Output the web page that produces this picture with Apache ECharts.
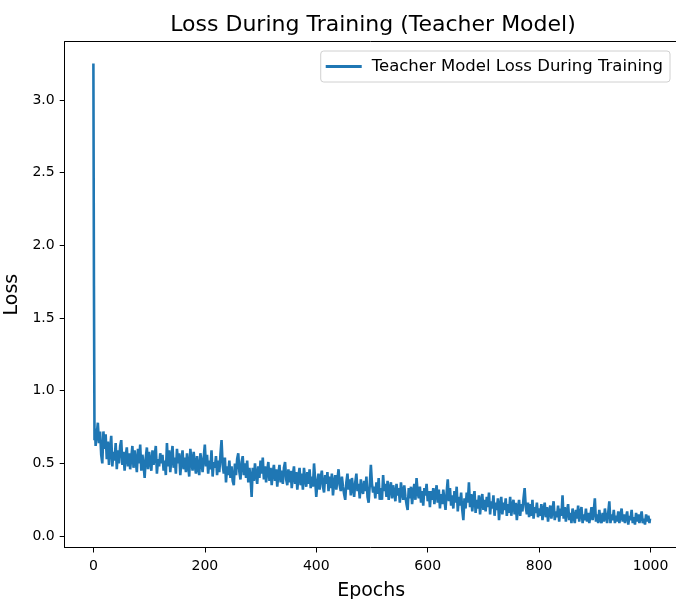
<!DOCTYPE html>
<html lang="en">
<head>
  <meta charset="UTF-8">
  <title>Loss During Training (Teacher Model)</title>
  <script src="https://cdn.jsdelivr.net/npm/echarts@6.0.0/dist/echarts.min.js"></script>
</head>
<body style="margin:0;background:#fff">
  <div id="main" style="width:676px;height:599px;"></div>
  <script>
    // loss: first epochs one by one, then every 2 epochs (4..998), then the last one
    const startEpochs = [0, 1, 2, 3];
    const startLoss = [3.25, 1.72, 0.66, 0.74];
    const lossEvery2 = [
      0.62, 0.70, 0.78, 0.64, 0.72, 0.56, 0.50, 0.72, 0.60, 0.70, // 4-22
      0.53, 0.65, 0.49, 0.60, 0.69, 0.48, 0.58, 0.52, 0.64, 0.46, // 24-42
      0.59, 0.50, 0.62, 0.66, 0.49, 0.58, 0.45, 0.55, 0.61, 0.48, // 44-62
      0.57, 0.46, 0.54, 0.62, 0.47, 0.59, 0.52, 0.44, 0.60, 0.50, // 64-82
      0.63, 0.45, 0.56, 0.49, 0.40, 0.54, 0.61, 0.46, 0.58, 0.51, // 84-102
      0.45, 0.59, 0.49, 0.55, 0.62, 0.43, 0.53, 0.48, 0.57, 0.50, // 104-122
      0.56, 0.45, 0.52, 0.42, 0.64, 0.48, 0.59, 0.44, 0.54, 0.62, // 124-142
      0.47, 0.54, 0.43, 0.60, 0.50, 0.57, 0.42, 0.52, 0.59, 0.46, // 144-162
      0.54, 0.44, 0.57, 0.49, 0.41, 0.60, 0.52, 0.45, 0.58, 0.49, // 164-182
      0.43, 0.55, 0.47, 0.42, 0.57, 0.51, 0.44, 0.54, 0.63, 0.48, // 184-202
      0.56, 0.43, 0.52, 0.46, 0.59, 0.41, 0.51, 0.47, 0.55, 0.42, // 204-222
      0.52, 0.44, 0.56, 0.66, 0.49, 0.43, 0.54, 0.37, 0.48, 0.42, // 224-242
      0.52, 0.40, 0.48, 0.38, 0.35, 0.50, 0.42, 0.53, 0.57, 0.44, // 244-262
      0.39, 0.51, 0.55, 0.42, 0.50, 0.40, 0.52, 0.37, 0.47, 0.41, // 264-282
      0.27, 0.47, 0.38, 0.50, 0.42, 0.36, 0.48, 0.40, 0.52, 0.43, // 284-302
      0.54, 0.39, 0.48, 0.37, 0.45, 0.51, 0.38, 0.47, 0.35, 0.44, // 304-322
      0.49, 0.38, 0.46, 0.34, 0.43, 0.49, 0.37, 0.45, 0.36, 0.47, // 324-342
      0.51, 0.39, 0.35, 0.46, 0.37, 0.45, 0.33, 0.42, 0.48, 0.36, // 344-362
      0.44, 0.32, 0.41, 0.47, 0.35, 0.43, 0.32, 0.47, 0.39, 0.34, // 364-382
      0.44, 0.36, 0.46, 0.33, 0.41, 0.34, 0.50, 0.39, 0.27, 0.37, // 384-402
      0.43, 0.32, 0.40, 0.45, 0.34, 0.30, 0.42, 0.36, 0.44, 0.31, // 404-422
      0.41, 0.33, 0.43, 0.28, 0.37, 0.42, 0.32, 0.39, 0.46, 0.35, // 424-442
      0.31, 0.41, 0.34, 0.29, 0.25, 0.37, 0.43, 0.32, 0.39, 0.28, // 444-462
      0.40, 0.33, 0.27, 0.37, 0.43, 0.31, 0.36, 0.26, 0.39, 0.32, // 464-482
      0.29, 0.38, 0.31, 0.41, 0.27, 0.23, 0.35, 0.49, 0.36, 0.30, // 484-502
      0.34, 0.26, 0.37, 0.29, 0.40, 0.25, 0.33, 0.25, 0.42, 0.31, // 504-522
      0.36, 0.27, 0.38, 0.25, 0.33, 0.37, 0.26, 0.35, 0.30, 0.24, // 524-542
      0.36, 0.28, 0.33, 0.23, 0.37, 0.30, 0.25, 0.35, 0.27, 0.22, // 544-562
      0.18, 0.33, 0.26, 0.34, 0.22, 0.30, 0.36, 0.25, 0.40, 0.30, // 564-582
      0.26, 0.34, 0.23, 0.31, 0.21, 0.33, 0.28, 0.36, 0.24, 0.31, // 584-602
      0.20, 0.31, 0.25, 0.33, 0.22, 0.29, 0.35, 0.23, 0.32, 0.19, // 604-622
      0.29, 0.22, 0.32, 0.25, 0.18, 0.30, 0.39, 0.24, 0.33, 0.21, // 624-642
      0.28, 0.19, 0.31, 0.23, 0.34, 0.17, 0.27, 0.21, 0.30, 0.18, // 644-662
      0.11, 0.26, 0.19, 0.30, 0.23, 0.37, 0.20, 0.29, 0.17, 0.26, // 664-682
      0.31, 0.16, 0.25, 0.19, 0.28, 0.15, 0.24, 0.29, 0.18, 0.25, // 684-702
      0.17, 0.27, 0.20, 0.30, 0.15, 0.24, 0.19, 0.28, 0.14, 0.23, // 704-722
      0.18, 0.26, 0.11, 0.21, 0.27, 0.15, 0.23, 0.18, 0.26, 0.14, // 724-742
      0.22, 0.16, 0.27, 0.14, 0.21, 0.25, 0.15, 0.23, 0.11, 0.19, // 744-762
      0.25, 0.14, 0.22, 0.17, 0.26, 0.33, 0.20, 0.15, 0.23, 0.13, // 764-782
      0.22, 0.14, 0.25, 0.12, 0.20, 0.16, 0.23, 0.13, 0.19, 0.14, // 784-802
      0.22, 0.11, 0.18, 0.23, 0.13, 0.20, 0.10, 0.17, 0.21, 0.12, // 804-822
      0.18, 0.24, 0.11, 0.17, 0.13, 0.21, 0.10, 0.19, 0.14, 0.28, // 824-842
      0.12, 0.20, 0.10, 0.17, 0.22, 0.11, 0.16, 0.09, 0.19, 0.13, // 844-862
      0.09, 0.18, 0.12, 0.21, 0.10, 0.16, 0.20, 0.09, 0.15, 0.11, // 864-882
      0.19, 0.10, 0.16, 0.09, 0.14, 0.20, 0.11, 0.17, 0.26, 0.10, // 884-902
      0.15, 0.09, 0.18, 0.11, 0.09, 0.16, 0.10, 0.19, 0.13, 0.09, // 904-922
      0.16, 0.24, 0.09, 0.15, 0.11, 0.18, 0.09, 0.14, 0.10, 0.17, // 924-942
      0.09, 0.14, 0.19, 0.10, 0.15, 0.09, 0.13, 0.17, 0.08, 0.14, // 944-962
      0.11, 0.18, 0.09, 0.13, 0.08, 0.16, 0.10, 0.15, 0.09, 0.13, // 964-982
      0.17, 0.09, 0.12, 0.08, 0.15, 0.10, 0.14, 0.09              // 984-998
    ];
    const lastEpoch = 999;
    const lastLoss = 0.12;

    const xTicks = [0, 200, 400, 600, 800, 1000];
    const yTicks = [0, 0.5, 1.0, 1.5, 2.0, 2.5, 3.0];

    const epochs = startEpochs.slice();
    lossEvery2.forEach((v, i) => epochs.push(4 + i * 2));
    epochs.push(lastEpoch);
    const loss = startLoss.concat(lossEvery2, [lastLoss]);
    const data = epochs.map((e, i) => [e, loss[i]]);

    const font = 'DejaVu Sans';
    const xMin = -51.5, xMax = 1048.7;
    const chart = echarts.init(document.getElementById('main'), null, { renderer: 'canvas' });

    chart.setOption({
      animation: false,
      backgroundColor: '#fff',
      title: {
        text: 'Loss During Training (Teacher Model)',
        left: 368,
        top: 9,
        textAlign: 'center',
        textStyle: { fontFamily: font, fontSize: 22, fontWeight: 'normal', color: '#000' }
      },
      legend: {
        right: 6,
        top: 51,
        padding: [7, 7, 7, 5],
        itemWidth: 36,
        itemHeight: 3,
        itemGap: 0,
        borderColor: '#d0d0d0',
        borderWidth: 1,
        borderRadius: 3,
        backgroundColor: '#fff',
        textStyle: { fontFamily: font, fontSize: 16.5, color: '#000', padding: [0, 0, 0, 5] },
        data: [{ name: 'Teacher Model Loss During Training', icon: 'rect' }]
      },
      grid: {
        left: 64.7,
        width: 613,
        top: 41.7,
        bottom: 51.5,
        show: false,
        containLabel: false,
        outerBoundsMode: 'none'
      },
      xAxis: [{
        type: 'value',
        min: xMin,
        max: xMax,
        name: 'Epochs',
        nameLocation: 'middle',
        nameGap: 34,
        nameTextStyle: { fontFamily: font, fontSize: 19, color: '#000' },
        axisLine: { onZero: false, lineStyle: { color: '#000', width: 1 } },
        axisTick: { show: true, length: 5, lineStyle: { color: '#000' }, customValues: xTicks },
        axisLabel: {
          fontFamily: font, fontSize: 14, color: '#000', margin: 12,
          customValues: xTicks,
          formatter: v => String(v)
        },
        splitLine: { show: false }
      }, {
        // top spine only
        type: 'value',
        position: 'top',
        min: xMin,
        max: xMax,
        axisLine: { show: true, onZero: false, lineStyle: { color: '#000', width: 1 } },
        axisTick: { show: false },
        axisLabel: { show: false },
        splitLine: { show: false }
      }],
      yAxis: {
        type: 'value',
        min: -0.078,
        max: 3.40,
        name: 'Loss',
        nameLocation: 'middle',
        nameGap: 25,
        nameTextStyle: { fontFamily: font, fontSize: 19, color: '#000' },
        axisLine: { show: true, onZero: false, lineStyle: { color: '#000', width: 1 } },
        axisTick: { show: true, length: 5, lineStyle: { color: '#000' }, customValues: yTicks },
        axisLabel: {
          fontFamily: font, fontSize: 14, color: '#000', margin: 10,
          customValues: yTicks,
          formatter: v => v.toFixed(1)
        },
        splitLine: { show: false }
      },
      series: [{
        name: 'Teacher Model Loss During Training',
        type: 'line',
        xAxisIndex: 0,
        data: data,
        symbol: 'none',
        lineStyle: { color: '#1f77b4', width: 2.6 },
        itemStyle: { color: '#1f77b4' }
      }]
    });
  </script>
</body>
</html>
